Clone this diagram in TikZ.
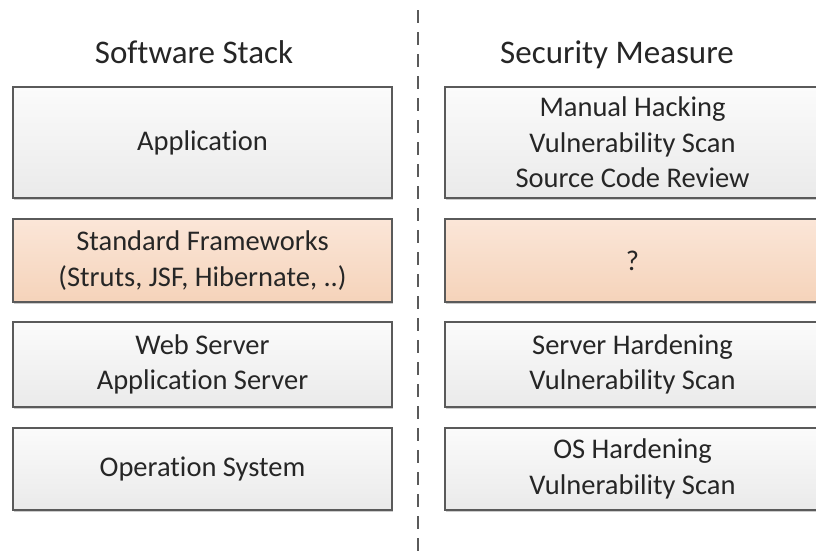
\documentclass[tikz,border=0pt]{standalone}
\usepackage{fontspec}
\setmainfont{Carlito}[Ligatures={NoCommon}]
\usetikzlibrary{shadows}
\definecolor{boxline}{HTML}{5A5A5A}
\definecolor{txt}{HTML}{262626}
\definecolor{graytop}{HTML}{FBFBFB}
\definecolor{graybot}{HTML}{EAEAEA}
\definecolor{orgtop}{HTML}{FBE6D8}
\definecolor{orgbot}{HTML}{F5D3BA}
\tikzset{
  layer/.style={draw=boxline, line width=1.5pt, top color=graytop, bottom color=graybot,
    text=txt, align=center, font=\fontsize{28.5}{35.5}\selectfont, inner sep=0pt,
    drop shadow={shadow xshift=1pt, shadow yshift=-2pt, opacity=0.2, fill=black}},
  framework/.style={layer, top color=orgtop, bottom color=orgbot},
  coltitle/.style={text=txt, font=\fontsize{33}{40}\selectfont, anchor=base, inner sep=0pt},
  divider/.style={draw=boxline, line width=1.5pt, dash pattern=on 13pt off 9pt}
}
\begin{document}
\begin{tikzpicture}[x=1pt,y=-1pt]
\clip (0,0) rectangle (816,550);
\fill[white] (0,0) rectangle (816,550);
% titles
\node[coltitle] (t1) at (194,63) {Software Stack};
\node[coltitle] (t2) at (617,63) {Security Measure};
% divider
\coordinate (dtop) at (418,10);
\coordinate (dbot) at (418,552);
\draw[divider] (dtop) -- (dbot);
% left column
\node[layer, minimum width=379pt, minimum height=111pt] (app) at (202.5,142.5) {Application};
\node[framework, minimum width=379pt, minimum height=83pt] (fw) at (202.5,260.5) {Standard Frameworks\\(Struts, JSF, Hibernate, ..)};
\node[layer, minimum width=379pt, minimum height=85pt] (srv) at (202.5,364.5) {Web Server\\Application Server};
\node[layer, minimum width=379pt, minimum height=82pt] (os) at (202.5,469) {Operation System};
% right column
\node[layer, minimum width=375pt, minimum height=111pt] (sapp) at (632.5,142.5) {Manual Hacking\\Vulnerability Scan\\Source Code Review};
\node[framework, minimum width=375pt, minimum height=83pt] (sfw) at (632.5,260.5) {?};
\node[layer, minimum width=375pt, minimum height=85pt] (ssrv) at (632.5,364.5) {Server Hardening\\Vulnerability Scan};
\node[layer, minimum width=375pt, minimum height=82pt] (sos) at (632.5,469) {OS Hardening\\Vulnerability Scan};
\end{tikzpicture}
\end{document}
